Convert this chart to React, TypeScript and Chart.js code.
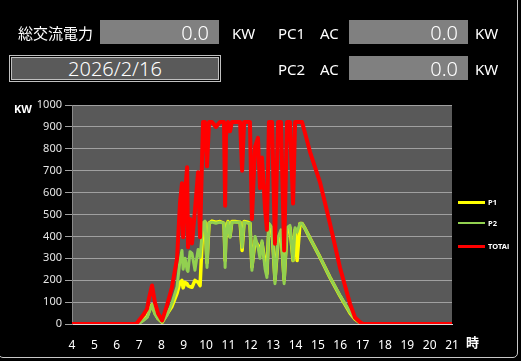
import React, { useEffect, useRef } from "react";
import { Chart, registerables } from "chart.js";

Chart.register(...registerables);

// ---- data (hours of day) ----
const TIMES = [
  4.0, 6.86, 6.95, 7.18, 7.36, 7.45, 7.58, 7.71, 7.85, 8.03, 8.25, 8.47, 8.7, 8.83, 8.92, 8.97,
  9.06, 9.15, 9.19, 9.28, 9.37, 9.5, 9.64, 9.73, 9.86, 9.95, 10.04, 10.13, 10.26, 10.44, 10.62,
  10.8, 10.85, 10.89, 10.98, 11.07, 11.15, 11.29, 11.52, 11.61, 11.7, 11.87, 11.96, 12.05, 12.19,
  12.32, 12.41, 12.5, 12.64, 12.72, 12.81, 12.95, 13.08, 13.22, 13.35, 13.49, 13.62, 13.75, 13.89,
  13.98, 14.07, 14.2, 14.29, 14.43, 14.65, 15.1, 15.54, 15.99, 16.44, 16.66, 16.89, 17.02, 17.1, 21.0,
];

const P1 = [
  0, 0, 0, 20, 35, 60, 88, 50, 25, 8, 45, 80, 140, 190, 199, 165,
  190, 184, 175, 170, 168, 199, 190, 175, 460, 465, 280, 460, 470, 465, 468,
  460, 290, 420, 468, 400, 468, 468, 465, 336, 468, 465, 460, 260, 380,
  360, 330, 370, 280, 230, 455, 430, 200, 380, 420, 200, 430, 440, 290,
  430, 290, 459, 459, 435, 391, 304, 213, 128, 50, 22, 5, 0, 0, 0,
];

const P2 = [
  0, 0, 0, 15, 30, 55, 88, 45, 25, 8, 40, 95, 170, 290, 336, 250,
  300, 245, 240, 330, 322, 245, 340, 305, 460, 470, 258, 460, 465, 460, 465,
  460, 258, 400, 465, 396, 465, 465, 465, 350, 465, 460, 460, 245, 400,
  350, 300, 380, 250, 213, 459, 440, 184, 396, 430, 184, 440, 450, 290,
  440, 420, 459, 459, 435, 391, 304, 213, 130, 53, 25, 5, 0, 0, 0,
];

const TOTAL = [
  0, 0, 10, 40, 70, 120, 176, 98, 48, 16, 85, 167, 300, 550, 643, 396,
  600, 716, 350, 480, 368, 519, 693, 396, 922, 922, 720, 922, 922, 900, 922,
  922, 540, 860, 922, 880, 922, 922, 922, 700, 922, 922, 922, 480, 810,
  850, 620, 760, 520, 430, 922, 922, 367, 922, 922, 336, 922, 922, 550,
  922, 922, 922, 922, 870, 785, 645, 459, 257, 92, 30, 8, 0, 0, 0,
];

const SERIES_NAMES = ["P1", "P2", "TOTAl"];
const SERIES_COLORS = ["#ffff00", "#92d050", "#ff0000"];
const X_TICKS = [4, 5, 6, 7, 8, 9, 10, 11, 12, 13, 14, 15, 16, 17, 18, 19, 20, 21];
const Y_MIN = 0;
const Y_MAX = 1000;
const Y_STEP = 100;

const HEADER_TOTAL_LABEL = "総交流電力";
const HEADER_UNIT = "KW";
const HEADER_VALUES = ["0.0", "0.0", "0.0"];
const HEADER_DATE = "2026/2/16";
const Y_UNIT = "KW";
const X_UNIT = "時";

const FONT = "'Noto Sans', 'Noto Sans CJK JP', sans-serif";
const JFONT = "'Noto Sans CJK JP', 'Noto Sans', sans-serif";

const plotBg = {
  id: "plotBg",
  beforeDraw(chart: any) {
    const { ctx, chartArea } = chart;
    if (!chartArea) return;
    ctx.save();
    ctx.fillStyle = "#595959";
    ctx.fillRect(chartArea.left, chartArea.top, chartArea.right - chartArea.left, chartArea.bottom - chartArea.top);
    ctx.restore();
  },
};

function toPts(vals: number[]) {
  return vals.map((v, i) => ({ x: TIMES[i], y: v }));
}

export default function App() {
  const ref = useRef<HTMLCanvasElement | null>(null);

  useEffect(() => {
    document.body.style.margin = "0";
    document.body.style.background = "#000";
    const cv = ref.current;
    if (!cv) return;
    const series = [P1, P2, TOTAL];
    const widths = [3.5, 3, 4];
    const orders = [3, 2, 1];
    const chart = new Chart(cv, {
      type: "line",
      data: {
        datasets: series.map((s, i) => ({
          label: SERIES_NAMES[i],
          data: toPts(s),
          borderColor: SERIES_COLORS[i],
          backgroundColor: SERIES_COLORS[i],
          borderWidth: widths[i],
          pointRadius: 0,
          tension: 0,
          fill: false,
          order: orders[i],
          borderJoinStyle: "round" as const,
        })),
      },
      options: {
        animation: false,
        responsive: false,
        devicePixelRatio: 1,
        layout: { padding: { left: 0, right: 69, top: 105, bottom: 7 } },
        plugins: { legend: { display: false }, tooltip: { enabled: false } },
        scales: {
          x: {
            type: "linear",
            min: X_TICKS[0],
            max: X_TICKS[X_TICKS.length - 1],
            afterFit: (s: any) => {
              s.height = 30;
            },
            afterBuildTicks: (s: any) => {
              s.ticks = X_TICKS.map((v) => ({ value: v }));
            },
            ticks: {
              color: "#ffffff",
              font: { size: 12, family: FONT },
              padding: 14,
              maxRotation: 0,
              autoSkip: false,
              callback: (v: any) => String(v),
            },
            grid: { display: false, drawTicks: false },
            border: { display: true, color: "#d9d9d9", width: 1 },
          },
          y: {
            min: Y_MIN,
            max: Y_MAX,
            afterFit: (s: any) => {
              s.width = 72;
            },
            ticks: {
              stepSize: Y_STEP,
              color: "#e6e6e6",
              font: { size: 11, family: FONT },
              padding: 3,
              callback: (v: any) => String(v),
            },
            grid: {
              color: (c: any) => (c.tick && c.tick.value === 0 ? "#d9d9d9" : "#a0a0a0"),
              tickLength: 7,
              tickColor: "#a0a0a0",
            },
            border: { display: true, color: "#8a8a8a" },
          },
        },
      },
      plugins: [plotBg],
    } as any);
    return () => chart.destroy();
  }, []);

  const txt = (s: string, left: number, cy: number, size: number, extra: any = {}) => (
    <div
      style={{
        position: "absolute",
        left,
        top: cy - 12,
        height: 24,
        lineHeight: "24px",
        fontSize: size,
        color: "#ffffff",
        fontFamily: JFONT,
        whiteSpace: "nowrap",
        ...extra,
      }}
    >
      {s}
    </div>
  );

  const box = (left: number, top: number, val: string) => (
    <div
      style={{
        position: "absolute",
        left,
        top,
        width: 119,
        height: 24,
        background: "#808080",
        color: "#ffffff",
        fontFamily: FONT,
        fontSize: 20,
        lineHeight: "25px",
        textAlign: "right",
        paddingRight: 10,
        boxSizing: "border-box",
        fontWeight: 300,
      }}
    >
      {val}
    </div>
  );

  const legendRows = [202, 223, 246];

  return (
    <div style={{ position: "fixed", left: 0, top: 0, width: 521, height: 361, background: "#000", overflow: "hidden" }}>
      <div
        style={{
          position: "absolute",
          left: -2,
          top: -10,
          width: 520,
          height: 368,
          border: "1px solid #c8c8c8",
          borderRadius: 5,
          boxSizing: "border-box",
        }}
      />
      <canvas ref={ref} width={521} height={361} style={{ position: "absolute", left: 0, top: 0, width: 521, height: 361 }} />

      {txt(HEADER_TOTAL_LABEL, 18, 33, 15)}
      {box(100, 20, HEADER_VALUES[0])}
      {txt(HEADER_UNIT, 232, 33, 15, { fontFamily: FONT })}
      {txt("PC1", 278, 33, 15, { fontFamily: FONT })}
      {txt("AC", 320, 33, 15, { fontFamily: FONT })}
      {box(349, 20, HEADER_VALUES[1])}
      {txt(HEADER_UNIT, 475, 33, 15, { fontFamily: FONT })}

      <div
        style={{
          position: "absolute",
          left: 9,
          top: 55,
          width: 212,
          height: 27,
          border: "1px solid #c0c0c0",
          boxSizing: "border-box",
          padding: 1,
          background: "#000",
        }}
      >
        <div
          style={{
            width: "100%",
            height: "100%",
            border: "1px solid #c0c0c0",
            boxSizing: "border-box",
            background: "#5a5a5a",
            color: "#ffffff",
            fontFamily: FONT,
            fontSize: 20,
            lineHeight: "22px",
            textAlign: "center",
            fontWeight: 300,
          }}
        >
          {HEADER_DATE}
        </div>
      </div>

      {txt("PC2", 278, 69, 15, { fontFamily: FONT })}
      {txt("AC", 320, 69, 15, { fontFamily: FONT })}
      {box(349, 56, HEADER_VALUES[2])}
      {txt(HEADER_UNIT, 475, 69, 15, { fontFamily: FONT })}

      {txt(Y_UNIT, 14, 109, 11, { fontWeight: 700, fontFamily: FONT })}
      {txt(X_UNIT, 466, 342, 13, { fontWeight: 700 })}

      {SERIES_NAMES.map((n, i) => (
        <React.Fragment key={n}>
          <div
            style={{
              position: "absolute",
              left: 458,
              top: legendRows[i] - (i === 1 ? 1 : 1.5),
              width: 27,
              height: i === 1 ? 2 : 3,
              background: SERIES_COLORS[i],
            }}
          />
          <div
            style={{
              position: "absolute",
              left: 488,
              top: legendRows[i] - 6,
              height: 12,
              lineHeight: "12px",
              fontSize: 7.5,
              color: "#ffffff",
              fontFamily: FONT,
              fontWeight: 700,
            }}
          >
            {n}
          </div>
        </React.Fragment>
      ))}
    </div>
  );
}
